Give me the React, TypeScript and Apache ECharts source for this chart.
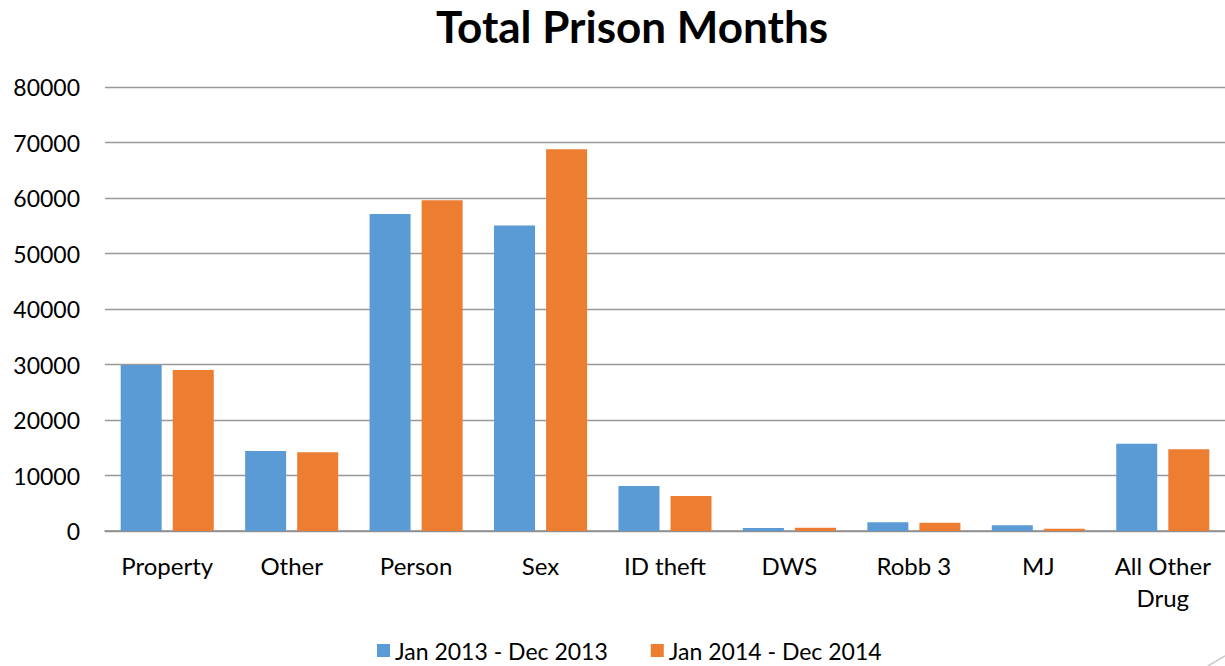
import React, { useEffect, useRef } from "react";
import * as echarts from "echarts";

const categories = ["Property", "Other", "Person", "Sex", "ID theft", "DWS", "Robb 3", "MJ", "All Other\nDrug"];
const series2013 = [29900, 14400, 57100, 55050, 8100, 540, 1570, 1030, 15700];
const series2014 = [29000, 14200, 59600, 68800, 6300, 600, 1500, 420, 14750];
const seriesNames = ["Jan 2013 - Dec 2013", "Jan 2014 - Dec 2014"];
const colors = ["#5B9BD5", "#ED7D31"];
const FONT = "Lato, 'Open Sans', sans-serif";

export default function App() {
  const ref = useRef<HTMLDivElement>(null);
  useEffect(() => {
    document.body.style.margin = "0";
    const chart = echarts.init(ref.current!, null, { renderer: "svg" });
    chart.setOption({
      animation: false,
      backgroundColor: "#ffffff",
      title: {
        text: "Total Prison Months",
        left: 627,
        top: -1,
        textAlign: "center",
        textStyle: { fontSize: 44, fontWeight: "bold", color: "#000", fontFamily: FONT },
      },
      legend: {
        data: seriesNames,
        left: 377,
        top: 638,
        padding: 0,
        itemWidth: 13,
        itemHeight: 13,
        itemGap: 43,
        icon: "rect",
        textStyle: { fontSize: 23, color: "#000", fontFamily: FONT, lineHeight: 25 },
      },
      grid: { left: 105, top: 87, width: 1130, height: 444, containLabel: false },
      xAxis: {
        type: "category",
        data: categories,
        axisLine: { lineStyle: { color: "#8c8c8c", width: 1.5 } },
        axisTick: { show: false },
        axisLabel: { fontSize: 24, color: "#000", fontFamily: FONT, margin: 18, lineHeight: 32, interval: 0 },
      },
      yAxis: {
        type: "value",
        min: 0,
        max: 80000,
        interval: 10000,
        axisLine: { show: false },
        axisTick: { show: false },
        axisLabel: {
          fontSize: 23,
          color: "#000",
          fontFamily: FONT,
          margin: 25,
          formatter: (v: number) => String(v),
        },
        splitLine: { lineStyle: { color: "#999999", width: 1.3 } },
      },
      series: [
        {
          name: seriesNames[0],
          type: "bar",
          data: series2013,
          barWidth: 41,
          barGap: "27%",
          itemStyle: { color: colors[0] },
        },
        {
          name: seriesNames[1],
          type: "bar",
          data: series2014,
          barWidth: 41,
          barGap: "27%",
          itemStyle: { color: colors[1] },
        },
      ],
      graphic: [
        {
          type: "line",
          shape: { x1: 1208, y1: 666, x2: 1225, y2: 656 },
          style: { stroke: "#c8c8c8", lineWidth: 1.5 },
        },
      ],
    });
    return () => chart.dispose();
  }, []);
  return <div ref={ref} style={{ position: "fixed", left: 0, top: 0, width: 1225, height: 666 }} />;
}
